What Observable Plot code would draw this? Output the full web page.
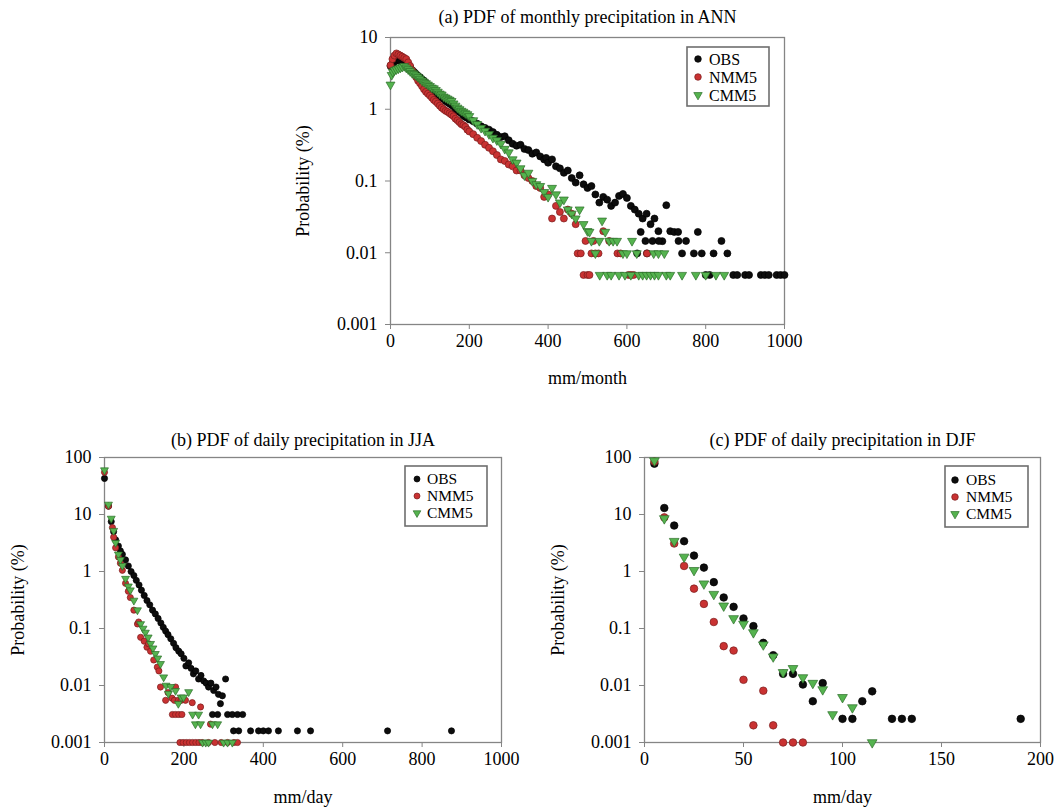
<!DOCTYPE html>
<html>
<head>
<meta charset="utf-8">
<script src="https://cdn.jsdelivr.net/npm/d3@7"></script>
<script src="https://cdn.jsdelivr.net/npm/@observablehq/plot@0.6"></script>
<style>
  html, body { margin: 0; padding: 0; background: #fff; }
  #root { position: relative; width: 1060px; height: 808px; overflow: hidden; font-family: "Liberation Serif", "Times New Roman", serif; }
</style>
</head>
<body>
<div id="root"></div>
<script>
// ---------------- data ----------------
const seriesNames = ["OBS", "NMM5", "CMM5"];

// (a) monthly precipitation, ANN (mm/month vs probability %)
const annObsX = [0,5,10,15,20,25,30,35,40,45,50,55,60,65,70,75,80,85,90,95,100,105,110,115,120,125,130,135,140,145,150,155,160,165,170,175,180,185,190,195,200,210,220,230,240,250,260,270,280,290,300,310,320,330,340,350,360,370,380,390,395,400,410,420,430,440,450,460,470,480,490,500,510,520,530,540,550,560,570,580,590,600,610,620,630,640,650,660,670,680,690,700,710,720,730,740,750,770,780,790,800,810,840,855,870,880,900,910,940,950,960,980,990,1000,635,647,665,681,731,820,626,651];
const annObsY = [4.0,4.3,4.6,4.8,4.9,4.7,4.6,4.5,4.4,4.1,3.8,3.5,3.3,3.1,2.9,2.8,2.6,2.5,2.3,2.1,2.0,1.9,1.75,1.65,1.6,1.5,1.45,1.4,1.3,1.25,1.2,1.15,1.1,1.0,0.95,0.92,0.88,0.82,0.78,0.76,0.72,0.68,0.63,0.58,0.55,0.52,0.48,0.44,0.41,0.42,0.37,0.33,0.31,0.32,0.28,0.27,0.24,0.25,0.22,0.2,0.21,0.18,0.2,0.16,0.15,0.13,0.14,0.11,0.095,0.12,0.09,0.08,0.085,0.065,0.05,0.06,0.055,0.045,0.05,0.062,0.066,0.058,0.045,0.04,0.035,0.03,0.035,0.025,0.03,0.02,0.0145,0.046,0.02,0.0195,0.0195,0.0098,0.0146,0.0098,0.0195,0.0098,0.0049,0.0049,0.0146,0.0098,0.0049,0.0049,0.0049,0.0049,0.0049,0.0049,0.0049,0.0049,0.0049,0.0049,0.0195,0.0146,0.0146,0.0146,0.0146,0.0098,0.0098,0.0098];

const annNmmX = [0,5,10,15,20,25,30,35,40,45,50,55,60,65,70,75,80,85,90,95,100,105,110,115,120,125,130,135,140,145,150,155,160,165,170,175,180,185,190,195,200,210,220,230,240,250,260,270,280,290,300,310,320,330,340,350,360,370,380,390,400,410,420,430,440,450,460,470,475,483,490,495,500,505,510,515,520,528,540,555,576,584,604,610,617,651];
const annNmmY = [4.1,5.0,5.6,6.0,5.8,5.6,5.4,5.2,5.0,4.5,4.0,3.5,3.1,2.8,2.5,2.3,2.1,1.9,1.75,1.65,1.55,1.45,1.35,1.28,1.2,1.12,1.05,1.0,0.95,0.92,0.88,0.84,0.8,0.74,0.7,0.66,0.62,0.6,0.57,0.52,0.49,0.45,0.4,0.36,0.32,0.29,0.26,0.23,0.2,0.19,0.17,0.16,0.14,0.14,0.12,0.11,0.1,0.085,0.08,0.06,0.065,0.03,0.045,0.037,0.03,0.04,0.035,0.025,0.0098,0.0098,0.0049,0.0146,0.0049,0.0049,0.0098,0.0146,0.0098,0.0098,0.02,0.0146,0.0098,0.0098,0.0049,0.0049,0.0049,0.0098];

const annCmmX = [0,3,6,10,15,20,25,30,35,40,45,50,55,60,65,70,75,80,85,90,95,100,105,110,115,120,125,130,135,140,145,150,155,160,165,170,175,180,185,190,195,200,210,220,230,240,250,260,270,280,290,300,310,320,330,340,350,360,370,380,390,400,410,420,430,440,450,460,470,480,490,500,505,510,520,530,537,545,555,565,575,590,600,613,625,668,680,695,531,550,560,580,595,610,630,640,650,660,670,680,700,710,740,775,800,826,847];
const annCmmY = [2.2,3.0,3.3,3.5,3.6,3.7,3.8,3.9,4.0,3.8,3.6,3.4,3.2,3.1,2.95,2.8,2.65,2.5,2.4,2.3,2.2,2.1,2.0,1.95,1.85,1.75,1.65,1.6,1.5,1.45,1.4,1.35,1.3,1.2,1.12,1.05,1.0,0.95,0.92,0.88,0.85,0.8,0.7,0.62,0.55,0.5,0.45,0.4,0.37,0.33,0.28,0.25,0.2,0.18,0.15,0.12,0.13,0.1,0.09,0.085,0.07,0.06,0.08,0.065,0.05,0.055,0.04,0.035,0.03,0.04,0.025,0.02,0.0195,0.0146,0.0098,0.0146,0.028,0.0195,0.0146,0.0146,0.0146,0.0098,0.0098,0.0146,0.0098,0.0098,0.0098,0.0098,0.0049,0.0049,0.0049,0.0049,0.0049,0.0049,0.0049,0.0049,0.0049,0.0049,0.0049,0.0049,0.0049,0.0049,0.0049,0.0049,0.0049,0.0049,0.0049];

// (b) daily precipitation, JJA (mm/day)
const jjaObsX = [0,10,17,23,28,35,40,45,53,60,67,74,80,87,93,100,107,114,121,128,135,142,148,154,160,167,174,180,187,193,200,205,212,218,224,230,237,243,250,256,262,268,275,281,287,292,297,305,272,285,310,322,335,348,325,338,368,388,400,413,438,486,519,713,874];
const jjaObsY = [43,14,7.5,5,3.6,2.8,2.3,2.0,1.6,1.25,1.0,0.85,0.7,0.58,0.47,0.38,0.31,0.26,0.21,0.18,0.15,0.125,0.105,0.09,0.078,0.066,0.055,0.046,0.04,0.036,0.03,0.022,0.025,0.02,0.016,0.018,0.013,0.015,0.012,0.011,0.0094,0.011,0.0082,0.0094,0.007,0.0048,0.0066,0.013,0.0031,0.0031,0.0031,0.0031,0.0031,0.0031,0.0016,0.0016,0.0016,0.0016,0.0016,0.0016,0.0016,0.0016,0.0016,0.0016,0.0016];

const jjaNmmX = [0,10,20,23,28,35,40,45,53,60,65,74,83,86,91,100,107,111,116,124,133,137,141,154,160,170,179,176,186,193,204,221,242,267,171,179,187,195,190,198,206,214,222,230,238,246,262,278,294,310,326,335];
const jjaNmmY = [55,14,5.9,4.0,2.6,1.8,1.4,1.05,0.62,0.45,0.35,0.21,0.12,0.13,0.07,0.06,0.047,0.054,0.04,0.028,0.021,0.018,0.0094,0.0055,0.0075,0.006,0.0094,0.0055,0.0055,0.0055,0.0055,0.005,0.0042,0.0021,0.0031,0.0031,0.0031,0.0031,0.001,0.001,0.001,0.001,0.001,0.001,0.001,0.001,0.001,0.001,0.001,0.001,0.001,0.001];

const jjaCmmX = [0,10,17,23,28,35,40,45,53,60,65,74,83,91,97,103,110,116,122,128,134,141,149,155,161,167,179,186,193,199,212,222,237,229,242,272,285,247,255,262,300,310,322];
const jjaCmmY = [60,15,8.5,5.2,3.2,2.0,1.6,1.26,0.75,0.55,0.47,0.31,0.21,0.12,0.1,0.085,0.07,0.054,0.045,0.036,0.03,0.024,0.014,0.01,0.0072,0.0095,0.0081,0.0048,0.0062,0.0062,0.0077,0.0031,0.0031,0.0021,0.0021,0.0021,0.0021,0.001,0.001,0.001,0.001,0.001,0.001];

// (c) daily precipitation, DJF (mm/day)
const djfObsX = [5,10,15,20,25,30,35,40,45,50,55,60,65,70,75,80,85,90,100,105,110,115,125,130,135,190];
const djfObsY = [78,13,6.4,3.4,1.9,1.17,0.65,0.35,0.24,0.15,0.11,0.056,0.034,0.016,0.016,0.0104,0.0053,0.011,0.0026,0.0026,0.0053,0.0079,0.0026,0.0026,0.0026,0.0026];

const djfNmmX = [5,10,15,20,25,30,35,40,45,50,55,60,65,70,75,80];
const djfNmmY = [85,8.9,3.1,1.25,0.5,0.27,0.13,0.049,0.041,0.0126,0.002,0.0081,0.002,0.001,0.001,0.001];

const djfCmmX = [5,10,15,20,25,30,35,40,45,50,55,60,65,70,75,80,85,90,95,100,105,115];
const djfCmmY = [88,8.5,3.4,1.8,1.05,0.61,0.4,0.25,0.15,0.12,0.085,0.052,0.032,0.017,0.02,0.0138,0.011,0.0085,0.0031,0.0062,0.0041,0.001];

// axes / labels
const xTicksMonthly = [0,200,400,600,800,1000];
const xTicksJJA = [0,200,400,600,800,1000];
const xTicksDJF = [0,50,100,150,200];
const yTicksA = [0.001,0.01,0.1,1,10];
const yLabelsA = ["0.001","0.01","0.1","1","10"];
const yTicksBC = [0.001,0.01,0.1,1,10,100];
const yLabelsBC = ["0.001","0.01","0.1","1","10","100"];
const titles = ["(a) PDF of monthly precipitation in ANN","(b) PDF of daily precipitation in JJA","(c) PDF of daily precipitation in DJF"];
const xLabels = ["mm/month","mm/day","mm/day"];
const yLabel = "Probability (%)";

// ---------------- styles ----------------
const fills = {OBS: "#0d0d0d", NMM5: "#c93232", CMM5: "#55b34f"};
const strokes = {OBS: "#000000", NMM5: "#7a1c1c", CMM5: "#2c6e29"};
const FONT = '"Liberation Serif", "Times New Roman", serif';
const AXIS = "#858585";

function zip(xs, ys, name) { return xs.map((x, i) => ({x, y: ys[i], s: name})); }

function makePanel(o) {
  const marks = [
    Plot.frame({stroke: AXIS, strokeWidth: 1.3}),
    Plot.axisX({ticks: o.xTicks, tickSize: 5, tickPadding: 5, stroke: AXIS, label: null, tickFormat: d => String(d), fill: "#000", fontSize: 18}),
    Plot.axisY({ticks: o.yTicks, tickSize: 5, tickPadding: 8, stroke: AXIS, label: null, tickFormat: d => o.yLabels[o.yTicks.indexOf(d)], fill: "#000", fontSize: 18})
  ];
  for (const [name, data] of o.series) {
    const tri = name === "CMM5";
    marks.push(Plot.dot(data, {
      x: "x", y: "y",
      r: tri ? o.r * 0.95 : o.r,
      symbol: tri ? "triangle" : "circle",
      rotate: tri ? 180 : 0,
      fill: fills[name], stroke: strokes[name], strokeWidth: 0.7
    }));
  }
  marks.push(Plot.text([o.title], {frameAnchor: "top", dy: o.titleDy, lineAnchor: "middle", textAnchor: "middle", fontSize: 18, fill: "#000"}));
  marks.push(Plot.text([o.xLabel], {frameAnchor: "bottom", dy: o.xLabelDy, lineAnchor: "middle", textAnchor: "middle", fontSize: 18, fill: "#000"}));
  marks.push(Plot.text([yLabel], {frameAnchor: "left", dx: o.yLabelDx, rotate: -90, lineAnchor: "middle", textAnchor: "middle", fontSize: 18, fill: "#000"}));
  const svg = Plot.plot({
    width: o.width, height: o.height,
    marginLeft: o.ml, marginRight: o.mr, marginTop: o.mt, marginBottom: o.mb,
    style: {fontFamily: FONT, fontSize: "18px", color: "#000", background: "transparent", overflow: "visible"},
    x: {domain: o.xDomain},
    y: {type: "log", domain: o.yDomain},
    marks
  });
  svg.style.position = "absolute";
  svg.style.left = o.left + "px";
  svg.style.top = o.top + "px";
  return svg;
}

function makeLegend(o) {
  const svg = d3.create("svg")
    .attr("width", o.w + 4).attr("height", o.h + 4)
    .style("position", "absolute").style("left", (o.left - 1) + "px").style("top", (o.top - 1) + "px")
    .style("font-family", FONT).style("font-size", o.fs + "px");
  svg.append("rect").attr("x", 1).attr("y", 1).attr("width", o.w).attr("height", o.h)
    .attr("fill", "#fff").attr("stroke", "#6e6e6e").attr("stroke-width", 1.6);
  seriesNames.forEach((name, i) => {
    const cy = o.rows[i] - o.top + 1, cx = o.symX - o.left + 1;
    if (name === "CMM5") {
      const sym = d3.symbol(d3.symbolTriangle, Math.PI * o.r * o.r * 0.9)();
      svg.append("path").attr("d", sym).attr("transform", `translate(${cx},${cy}) rotate(180)`)
        .attr("fill", fills[name]).attr("stroke", strokes[name]).attr("stroke-width", 0.7);
    } else {
      svg.append("circle").attr("cx", cx).attr("cy", cy).attr("r", o.r)
        .attr("fill", fills[name]).attr("stroke", strokes[name]).attr("stroke-width", 0.7);
    }
    svg.append("text").attr("x", o.textX - o.left + 1).attr("y", cy).attr("dy", "0.35em").attr("fill", "#000").text(name);
  });
  return svg.node();
}

const root = document.getElementById("root");

root.appendChild(makePanel({
  left: 280, top: 0, width: 540, height: 400, ml: 110, mr: 36, mt: 37, mb: 76,
  xDomain: [0, 1000], yDomain: [0.001, 10], xTicks: xTicksMonthly, yTicks: yTicksA, yLabels: yLabelsA,
  title: titles[0], xLabel: xLabels[0], titleDy: -20, xLabelDy: 54, yLabelDx: -87, r: 3.5,
  series: [["OBS", zip(annObsX, annObsY, "OBS")], ["NMM5", zip(annNmmX, annNmmY, "NMM5")], ["CMM5", zip(annCmmX, annCmmY, "CMM5")]]
}));

root.appendChild(makePanel({
  left: 0, top: 420, width: 530, height: 388, ml: 104, mr: 29, mt: 37, mb: 66,
  xDomain: [0, 1000], yDomain: [0.001, 100], xTicks: xTicksJJA, yTicks: yTicksBC, yLabels: yLabelsBC,
  title: titles[1], xLabel: xLabels[1], titleDy: -17, xLabelDy: 55, yLabelDx: -86, r: 3.1,
  series: [["OBS", zip(jjaObsX, jjaObsY, "OBS")], ["NMM5", zip(jjaNmmX, jjaNmmY, "NMM5")], ["CMM5", zip(jjaCmmX, jjaCmmY, "CMM5")]]
}));

root.appendChild(makePanel({
  left: 540, top: 420, width: 520, height: 388, ml: 104, mr: 20, mt: 37, mb: 66,
  xDomain: [0, 200], yDomain: [0.001, 100], xTicks: xTicksDJF, yTicks: yTicksBC, yLabels: yLabelsBC,
  title: titles[2], xLabel: xLabels[2], titleDy: -17, xLabelDy: 55, yLabelDx: -86, r: 3.8,
  series: [["OBS", zip(djfObsX, djfObsY, "OBS")], ["NMM5", zip(djfNmmX, djfNmmY, "NMM5")], ["CMM5", zip(djfCmmX, djfCmmY, "CMM5")]]
}));

root.appendChild(makeLegend({left: 687, top: 47, w: 82, h: 59, rows: [59, 77, 95], symX: 698, textX: 709, r: 3.3, fs: 16}));
root.appendChild(makeLegend({left: 405, top: 466, w: 82, h: 60, rows: [479, 496, 513], symX: 417, textX: 427, r: 3.0, fs: 15.5}));
root.appendChild(makeLegend({left: 945, top: 466, w: 83, h: 61, rows: [480, 497, 514], symX: 955, textX: 966, r: 3.3, fs: 15.5}));
</script>
</body>
</html>
